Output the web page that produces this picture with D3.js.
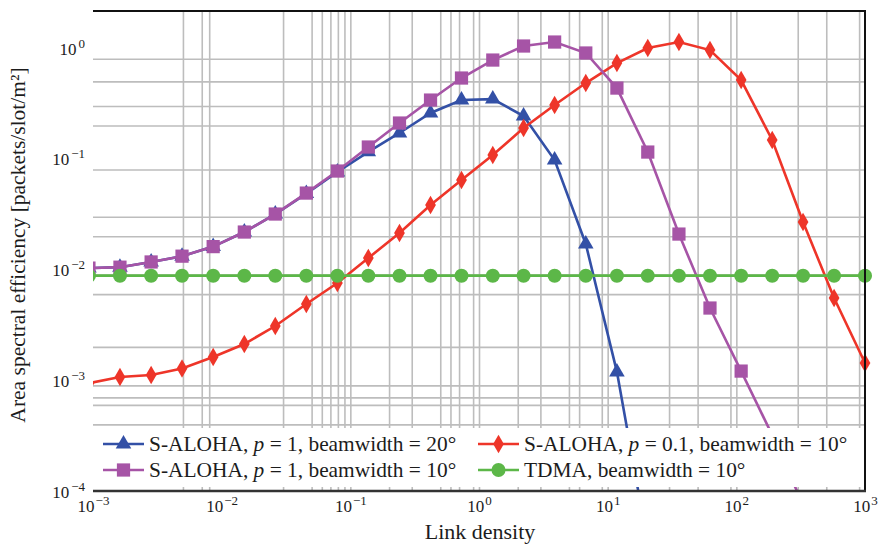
<!DOCTYPE html>
<html>
<head>
<meta charset="utf-8">
<script src="https://cdn.jsdelivr.net/npm/d3@7"></script>
<style>
body{margin:0;background:#fff;}
text{font-family:"Liberation Serif","Times New Roman",serif;fill:#1c1c1c;}
</style>
</head>
<body>
<svg id="chart" width="880" height="544"></svg>
<script>
// link density values (x), first one sits just left of the axis
var densities = [9.3e-4, 1.62e-3, 2.83e-3, 4.92e-3, 8.59e-3, 0.0150, 0.0261, 0.0455, 0.0793, 0.138, 0.241, 0.420, 0.731,
	1.28, 2.22, 3.87, 6.76, 11.8, 20.5, 35.8, 62.4, 109, 190, 330, 575, 1000];

var alohaP1bw20 = [0.0103, 0.0105, 0.0117, 0.0132, 0.0161, 0.0218, 0.0317, 0.0485, 0.0760, 0.1155, 0.171, 0.259, 0.339,
	0.346, 0.243, 0.0974, 0.0170, 0.00119, 3.3e-5, null, null, null, null, null, null, null];
var alohaP01bw10 = [9.4e-4, 1.07e-3, 1.115e-3, 1.277e-3, 1.622e-3, 2.125e-3, 3.09e-3, 4.88e-3, 7.55e-3, 0.0127, 0.02136, 0.0382, 0.0643,
	0.1081, 0.1895, 0.3057, 0.483, 0.732, 1.0, 1.133, 0.959, 0.514, 0.1477, 0.02685, 5.53e-3, 1.432e-3];
var alohaP1bw10 = [0.0103, 0.0105, 0.0117, 0.0132, 0.0161, 0.0218, 0.0317, 0.0490, 0.0775, 0.1277, 0.2103, 0.339, 0.536,
	0.779, 1.043, 1.133, 0.902, 0.435, 0.115, 0.0209, 0.00449, 0.00121, 3.2e-4, 7.5e-5, 1.6e-5, 3e-6];
var tdmaBw10 = [0.0088, 0.0088, 0.0088, 0.0088, 0.0088, 0.0088, 0.0088, 0.0088, 0.0088, 0.0088, 0.0088, 0.0088, 0.0088,
	0.0088, 0.0088, 0.0088, 0.0088, 0.0088, 0.0088, 0.0088, 0.0088, 0.0088, 0.0088, 0.0088, 0.0088, 0.0088];

var seriesNames = [
	["S-ALOHA, ", "p", " = 1, beamwidth = 20°"],
	["S-ALOHA, ", "p", " = 0.1, beamwidth = 10°"],
	["S-ALOHA, ", "p", " = 1, beamwidth = 10°"],
	["TDMA, beamwidth = 10°", "", ""]
];

var xTickVals = [1e-3, 1e-2, 1e-1, 1, 10, 100, 1000];
var xTickExp = ["\u22123", "\u22122", "\u22121", "0", "1", "2", "3"];
var yTickVals = [1e-4, 1e-3, 1e-2, 1e-1, 1];
var yTickExp = ["\u22124", "\u22123", "\u22122", "\u22121", "0"];

// the grid in the picture only keeps some of the minor lines
var xGrid = [5e-3, 7e-3, 8e-3, 3e-2, 5e-2, 6e-2, 7e-2, 8e-2, 9e-2, 0.1, 0.2, 0.3, 0.5, 0.6, 0.7, 0.9, 1, 2, 3, 5, 6, 9, 10,
	30, 50, 90, 100, 300, 500, 900];
var yGrid = [4e-4, 6e-4, 7e-4, 9e-4, 2e-3, 6e-3, 9e-3, 2e-2, 3e-2, 8e-2, 0.2, 0.3, 0.5, 0.8];

var plot = {left: 93, right: 865, top: 11, bottom: 491};

var svg = d3.select("#chart");

var x = d3.scaleLog().domain([1e-3, 1e3]).range([plot.left, plot.right]);
var y = d3.scaleLog().domain([1e-4, 2.16]).range([plot.bottom, plot.top]);

// grid
svg.append("g")
	.attr("transform", "translate(0," + plot.bottom + ")")
	.call(d3.axisBottom(x).tickValues(xGrid).tickSize(-(plot.bottom - plot.top)).tickFormat(""))
	.call(function(g){ g.select(".domain").remove(); })
	.selectAll("line").attr("stroke", "#bdbdbd").attr("stroke-width", 1.6);

svg.append("g")
	.attr("transform", "translate(" + plot.left + ",0)")
	.call(d3.axisLeft(y).tickValues(yGrid).tickSize(-(plot.right - plot.left)).tickFormat(""))
	.call(function(g){ g.select(".domain").remove(); })
	.selectAll("line").attr("stroke", "#bdbdbd").attr("stroke-width", 1.6);

svg.append("clipPath").attr("id", "plot-clip")
	.append("rect")
	.attr("x", plot.left).attr("y", plot.top)
	.attr("width", 880 - plot.left).attr("height", plot.bottom - plot.top);

var series = [
	{vals: alohaP1bw20, color: "#3350a6", symbol: d3.symbolTriangle, size: 105},
	{vals: alohaP01bw10, color: "#ee3529", symbol: d3.symbolDiamond, size: 100},
	{vals: alohaP1bw10, color: "#a654a6", symbol: d3.symbolSquare, size: 175},
	{vals: tdmaBw10, color: "#5cb748", symbol: d3.symbolCircle, size: 155}
];

var line = d3.line()
	.defined(function(d){ return d[1] != null; })
	.x(function(d){ return x(d[0]); })
	.y(function(d){ return y(d[1]); });

var curves = svg.append("g").attr("clip-path", "url(#plot-clip)");

series.forEach(function(s) {
	var pts = densities.map(function(d, i){ return [d, s.vals[i]]; });
	curves.append("path")
		.attr("d", line(pts))
		.attr("fill", "none")
		.attr("stroke", s.color)
		.attr("stroke-width", 2.6);
	curves.selectAll(null)
		.data(pts.filter(function(p){ return p[1] != null; }))
		.enter().append("path")
		.attr("transform", function(p){ return "translate(" + x(p[0]) + "," + y(p[1]) + ")"; })
		.attr("d", d3.symbol().type(s.symbol).size(s.size))
		.attr("fill", s.color);
});

// legend
var legendCols = [103, 478], legendRows = [444, 470];
var legend = svg.append("g");
legend.append("rect")
	.attr("x", 95).attr("y", 428).attr("width", 767).attr("height", 59)
	.attr("fill", "#fff");

series.forEach(function(s, i) {
	var lx = legendCols[i % 2], ly = legendRows[Math.floor(i / 2)];
	legend.append("line")
		.attr("x1", lx).attr("x2", lx + 41).attr("y1", ly).attr("y2", ly)
		.attr("stroke", s.color).attr("stroke-width", 2.6);
	legend.append("path")
		.attr("transform", "translate(" + (lx + 20.5) + "," + ly + ")")
		.attr("d", d3.symbol().type(s.symbol).size(s.size))
		.attr("fill", s.color);
	var t = legend.append("text")
		.attr("x", lx + 46).attr("y", ly + 7)
		.attr("font-size", 21.4);
	t.append("tspan").text(seriesNames[i][0]);
	t.append("tspan").attr("font-style", "italic").text(seriesNames[i][1]);
	t.append("tspan").text(seriesNames[i][2]);
});

// frame: no left edge in the picture
svg.append("line").attr("x1", plot.left).attr("x2", plot.right + 1).attr("y1", plot.top).attr("y2", plot.top)
	.attr("stroke", "#111").attr("stroke-width", 2);
svg.append("line").attr("x1", plot.right).attr("x2", plot.right).attr("y1", plot.top).attr("y2", plot.bottom)
	.attr("stroke", "#111").attr("stroke-width", 2);
svg.append("line").attr("x1", plot.left).attr("x2", plot.right + 1).attr("y1", plot.bottom).attr("y2", plot.bottom)
	.attr("stroke", "#333").attr("stroke-width", 2.4);

// tick labels 10^n
var xAxis = svg.append("g")
	.attr("transform", "translate(0," + plot.bottom + ")")
	.call(d3.axisBottom(x).tickValues(xTickVals).tickSize(0).tickFormat(""));
xAxis.select(".domain").remove();
xAxis.selectAll(".tick text")
	.attr("y", 21).attr("dy", 0)
	.attr("font-size", 17)
	.attr("fill", "#1c1c1c")
	.each(function(d, i) {
		var t = d3.select(this);
		t.append("tspan").text("10");
		t.append("tspan").attr("dy", -7).attr("dx", 1).attr("font-size", 13).text(xTickExp[i]);
	});

var yAxis = svg.append("g")
	.attr("transform", "translate(" + plot.left + ",0)")
	.call(d3.axisLeft(y).tickValues(yTickVals).tickSize(0).tickPadding(8).tickFormat(""));
yAxis.select(".domain").remove();
yAxis.selectAll(".tick text")
	.attr("dy", 6)
	.attr("font-size", 17)
	.attr("fill", "#1c1c1c")
	.each(function(d, i) {
		var t = d3.select(this);
		t.append("tspan").text("10");
		t.append("tspan").attr("dy", -7).attr("dx", 2).attr("font-size", 13).text(yTickExp[i]);
	});

// axis titles
svg.append("text")
	.attr("x", 480).attr("y", 539)
	.attr("text-anchor", "middle")
	.attr("font-size", 22)
	.text("Link density");

svg.append("text")
	.attr("transform", "translate(25,245) rotate(-90)")
	.attr("text-anchor", "middle")
	.attr("font-size", 21.5)
	.text("Area spectral efficiency [packets/slot/m²]");
</script>
</body>
</html>
